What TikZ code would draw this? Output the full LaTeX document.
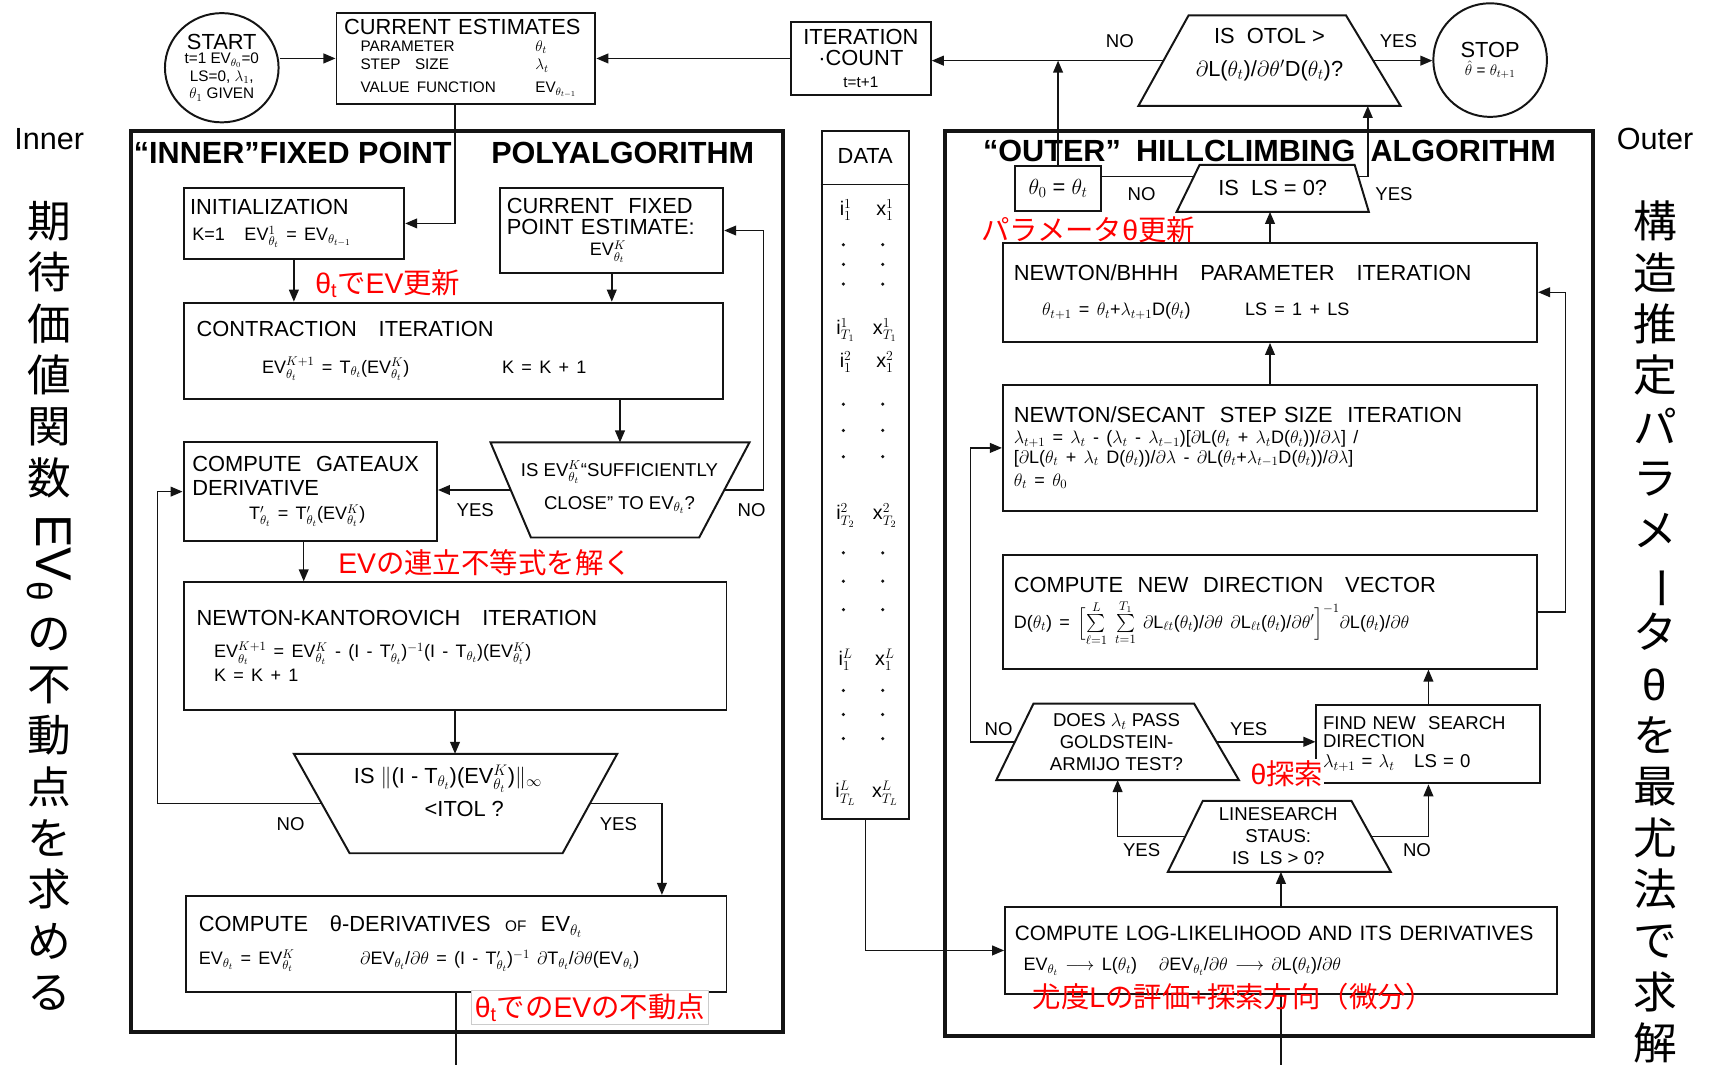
\RequirePackage{fix-cm}
\documentclass[tikz,border=0pt]{standalone}
\usepackage{amsmath,amssymb}
\usepackage{fontspec}
\setmainfont{Liberation Sans}
\newfontfamily\jpfont{Noto Sans CJK JP}
\usepackage{graphicx}
\usepackage{tikz}
\usetikzlibrary{arrows.meta,positioning,calc,shapes.geometric}
\usepackage{xcolor}
\definecolor{ink}{RGB}{20,20,20}
\definecolor{redmark}{RGB}{255,0,0}
\newcommand{\fhd}{\fontsize{20}{22}\selectfont}
\newcommand{\ffm}{\fontsize{16.5}{19}\selectfont}
\newcommand{\fsm}{\fontsize{14}{16}\selectfont}
\newcommand{\fcs}{\fontsize{14}{17}\selectfont}
\newcommand{\fyn}{\fontsize{17}{20}\selectfont}
\newcommand{\fttl}{\fontsize{28}{30}\selectfont\bfseries}
\newcommand{\fmemo}{\fontsize{26}{30}\selectfont}
\newcommand{\fvert}{\jpfont\fontsize{40}{47}\selectfont}
\newcommand{\jtx}[1]{{\jpfont #1}}
% trapezoid: name, top y, bottom y, top-left x, top-right x, bottom-left x, bottom-right x
\newcommand{\trapz}[7]{%
  \coordinate (#1-tl) at (#4,#2);
  \coordinate (#1-tr) at (#5,#2);
  \coordinate (#1-bl) at (#6,#3);
  \coordinate (#1-br) at (#7,#3);
  \coordinate (#1-l) at ($(#1-tl)!0.5!(#1-bl)$);
  \coordinate (#1-r) at ($(#1-tr)!0.5!(#1-br)$);
  \coordinate (#1-t) at ($(#1-tl)!0.5!(#1-tr)$);
  \coordinate (#1-b) at ($(#1-bl)!0.5!(#1-br)$);
  \draw[trapline] (#1-tl) -- (#1-tr) -- (#1-br) -- (#1-bl) -- cycle;
}
\tikzset{
  blk/.style={draw=ink,line width=1.8pt,inner sep=9pt,align=left,font=\fhd},
  trapline/.style={draw=ink,line width=1.8pt,line join=miter},
  ask/.style={align=center,font=\fyn,inner sep=0pt},
  frame/.style={draw=ink,line width=3.6pt},
  arr/.style={-{Triangle[length=11pt,width=9pt]},line width=1.3pt,ink},
  lnk/.style={line width=1.3pt,ink},
  yn/.style={font=\fyn,inner sep=1pt},
  memo/.style={text=redmark,font=\fmemo,inner sep=1pt},
  ttl/.style={font=\fttl,inner sep=0pt},
  vert/.style={font=\fvert,align=center,inner sep=0pt,anchor=north},
  side/.style={font=\fontsize{28}{30}\selectfont,inner sep=0pt},
  dat/.style={font=\fontsize{18}{20}\selectfont,inner sep=0pt},
}

\begin{document}
\begin{tikzpicture}[x=1pt,y=-1pt]
\fill[white] (0,0) rectangle (1568,975);
\useasboundingbox (0,0) rectangle (1568,975);

% top row
\node[ellipse,draw=ink,line width=1.8pt,minimum width=104,minimum height=100,inner sep=0pt,align=center,font=\fsm] (start) at (203,62)
  {{\fhd START}\\[-3pt]t=1 EV$_{\theta_0}$=0\\LS=0, $\lambda_1$,\\$\theta_1$ GIVEN};
\node[blk,minimum width=237,minimum height=83,text width=223,inner xsep=7pt,inner ysep=3pt] (ce) at (426.5,53.5)
  {CURRENT ESTIMATES\\[-2pt]{\fcs\hspace*{15pt}\makebox[160pt][l]{PARAMETER}$\theta_t$\\
   \hspace*{15pt}\makebox[160pt][l]{STEP\ \ SIZE}$\lambda_t$\\[-1pt]
   \hspace*{15pt}\makebox[160pt][l]{VALUE FUNCTION}EV$_{\theta_{t-1}}$}};
\node[blk,minimum width=128,minimum height=67,align=center,inner sep=3pt] (itc) at (788,53.5)
  {ITERATION\\[-3pt]·COUNT\\[-2pt]{\fsm t=t+1}};
\trapz{otol}{14}{97}{1088}{1232}{1042}{1282}
\node[ask,font=\fhd] (otolT) at (1162,50) {IS\ \ OTOL >\\[8pt]$\partial$L($\theta_t$)/$\partial\theta'$D($\theta_t$)?};
\node[circle,draw=ink,line width=1.8pt,minimum size=104,inner sep=0pt,align=center] (stop) at (1364,55)
  {{\fhd STOP}\\[2pt]{\fsm $\hat\theta$ = $\theta_{t+1}$}};
\draw[arr] (start.east |- ce.west) -- (ce.west);
\draw[arr] (itc.west) -- (ce.east);
\draw[arr] (otol-l) -- (otol-l -| itc.east);
\node[yn] (noA) at (1025,38) {NO};
\draw[arr] (otol-r) -- (otol-r -| stop.west);
\node[yn] (yesA) at (1280,38) {YES};

% side notes
\node[side] (innerLbl) at (45,127) {Inner};
\node[side] (outerLbl) at (1515,127) {Outer};
\node[vert] (vleft) at (45,184) {期\\待\\価\\値\\関\\数\\[14pt]{\fontsize{46}{46}\selectfont\rotatebox[origin=c]{-90}{\rmfamily EV\textsubscript{θ}}}\\[14pt]の\\不\\動\\点\\を\\求\\め\\る};
\node[vert] (vright) at (1515,184) {構\\造\\推\\定\\パ\\ラ\\メ\\\rotatebox[origin=c]{-90}{ー}\\タ\\{\rmfamily θ}\\を\\最\\尤\\法\\で\\求\\解};

% inner fixed point loop
\node[frame,minimum width=597,minimum height=825] (inner) at (418.5,532.5) {};
\node[ttl] (innerA) at (268,140) {“INNER”FIXED POINT};
\node[ttl] (innerB) at (570,140) {POLYALGORITHM};
\node[blk,minimum width=202,minimum height=65,text width=190,inner xsep=6pt] (init) at (269,204.5)
  {INITIALIZATION\\[2pt]{\ffm\hspace*{2pt}K=1\hspace{18pt}EV$^1_{\theta_t}$ = EV$_{\theta_{t-1}}$}};
\node[blk,minimum width=204,minimum height=78,text width=192,inner xsep=6pt,inner ysep=3pt] (cfpe) at (560,211)
  {CURRENT\ \ FIXED\\[-3pt]POINT ESTIMATE:\\[-2pt]{\ffm\hspace*{76pt}EV$^K_{\theta_t}$}};
\node[blk,minimum width=494,minimum height=88,text width=470,inner xsep=12pt] (contr) at (415,321)
  {CONTRACTION\ \ \ ITERATION\\[12pt]{\ffm\hspace*{60pt}EV$^{K+1}_{\theta_t}$ = T$_{\theta_t}$(EV$^K_{\theta_t}$)\hspace{85pt}K = K + 1}};
\trapz{suff}{405}{492}{449}{686}{486}{640}
\node[ask] (suffT) at (567,446) {IS EV$^K_{\theta_t}$“SUFFICIENTLY\\[10pt]CLOSE” TO EV$_{\theta_t}$?};
\node[blk,minimum width=232,minimum height=90,text width=216,inner xsep=8pt] (gat) at (284,450)
  {COMPUTE\ \ GATEAUX\\DERIVATIVE\\[0pt]{\ffm\hspace*{52pt}T$'_{\theta_t}$ = T$'_{\theta_t}$(EV$^K_{\theta_t}$)}};
\node[blk,minimum width=497,minimum height=117,text width=473,inner xsep=12pt] (nk) at (416.5,591.5)
  {NEWTON-KANTOROVICH\ \ \ ITERATION\\[10pt]{\ffm\hspace*{16pt}EV$^{K+1}_{\theta_t}$ = EV$^K_{\theta_t}$ - (I - T$'_{\theta_t}$)$^{-1}$(I - T$_{\theta_t}$)(EV$^K_{\theta_t}$)\\[0pt]\hspace*{16pt}K = K + 1}};
\trapz{itol}{690}{781}{269}{565}{320}{515}
\node[ask,font=\fhd] (itolT) at (410,724) {IS $\|$(I - T$_{\theta_t}$)(EV$^K_{\theta_t}$)$\|_\infty$\\[8pt]\hspace*{30pt}<ITOL ?};
\node[blk,minimum width=495,minimum height=88,text width=471,inner xsep=12pt] (deriv) at (417.5,864)
  {COMPUTE\ \ \ θ-DERIVATIVES\ \ {\fsm OF}\ \ EV$_{\theta_t}$\\[8pt]{\ffm EV$_{\theta_t}$ = EV$^K_{\theta_t}$\hspace{60pt}$\partial$EV$_{\theta_t}$/$\partial\theta$ = (I - T$'_{\theta_t}$)$^{-1}$ $\partial$T$_{\theta_t}$/$\partial\theta$(EV$_{\theta_t}$)}};
\coordinate (innerEnd) at (417.5,975);

\draw[arr] ([xshift=-10pt]ce.south) |- (init.east);
\draw[arr] (init.south) -- (init.south |- contr.north);
\draw[arr] (cfpe.south) -- (cfpe.south |- contr.north);
\draw[arr] (contr.south -| suff-t) -- (suff-t);
\draw[arr] (suff-l) -- (suff-l -| gat.east);
\node[yn] (yesB) at (435,467) {YES};
\draw[arr] (suff-r) -| ([xshift=36pt]cfpe.east) -- (cfpe.east);
\node[yn] (noB) at (688,467) {NO};
\draw[arr] ([xshift=-6pt]gat.south) -- ([xshift=-6pt]gat.south |- nk.north);
\draw[arr] (nk.south) -- (nk.south |- itol-t);
\draw[arr] (itol-l) -| ([xshift=-23pt]gat.west) -- (gat.west);
\node[yn] (noC) at (266,754) {NO};
\draw[arr] (itol-r) -| ([xshift=-60pt]deriv.north east);
\node[yn] (yesC) at (566,754) {YES};
\draw[lnk] (deriv.south) -- (innerEnd);

\node[memo] (memoA) at (355,260) {θ\textsubscript{t}\jtx{で}EV\jtx{更新}};
\node[memo] (memoB) at (444,515) {EV\jtx{の連立不等式を解く}};
\node[memo,fill=white,draw=black!20,line width=0.6pt,inner sep=3pt] (memoC) at (540,922) {θ\textsubscript{t}\jtx{での}EV\jtx{の不動点}};

% data column
\node[draw=ink,line width=1.8pt,minimum width=80,minimum height=630,inner sep=0pt] (data) at (792,435) {};
\node[font=\fhd] (dataT) at (792,143) {DATA};
\draw[lnk] ([yshift=-50pt]data.north west) -- ([yshift=-50pt]data.north east);
\foreach \n/\y/\supv/\subv in {1/192/1/1,2/302/1/T_1,3/331/2/1,4/472/2/T_2,5/604/L/1,6/726/L/T_L}{
  \node[dat] (di\n) at (774,\y) {i$^{\supv}_{\subv}$};
  \node[dat] (dx\n) at (810,\y) {x$^{\supv}_{\subv}$};
}
\foreach \y in {224,242,260,370,394,418,506,532,558,632,654,676}{
  \fill[ink] (772,\y) circle (1.6pt);
  \fill[ink] (808,\y) circle (1.6pt);
}

% outer hillclimbing loop
\node[frame,minimum width=593,minimum height=828] (outer) at (1161.5,534) {};
\node[ttl] (outerT) at (1162,138) {“OUTER”\hspace{14pt}HILLCLIMBING\hspace{14pt}ALGORITHM};
\node[blk,minimum width=79,minimum height=41,inner sep=0pt,align=center] (th0) at (968.5,172.5) {$\theta_0$ = $\theta_t$};
\trapz{lsz}{151}{194}{1098}{1240}{1077}{1253}
\node[ask,font=\fhd] (lszT) at (1165,172) {IS\ \ LS = 0?};
\node[yn] (noD) at (1045,178) {NO};
\node[yn] (yesD) at (1276,178) {YES};
\node[blk,minimum width=489,minimum height=91,text width=469,inner xsep=10pt] (bhhh) at (1162.5,267.5)
  {NEWTON/BHHH\ \ \ PARAMETER\ \ \ ITERATION\\[10pt]{\ffm\hspace*{26pt}$\theta_{t+1}$ = $\theta_t$+$\lambda_{t+1}$D($\theta_t$)\hspace{50pt}LS = 1 + LS}};
\node[blk,minimum width=489,minimum height=116,text width=469,inner xsep=10pt] (sec) at (1162.5,410)
  {NEWTON/SECANT\ \ STEP\ SIZE\ \ ITERATION\\[0pt]{\ffm $\lambda_{t+1}$ = $\lambda_t$ - ($\lambda_t$ - $\lambda_{t-1}$)[$\partial$L($\theta_t$ + $\lambda_t$D($\theta_t$))/$\partial\lambda$] /\\[-1pt][$\partial$L($\theta_t$ + $\lambda_t$ D($\theta_t$))/$\partial\lambda$ - $\partial$L($\theta_t$+$\lambda_{t-1}$D($\theta_t$))/$\partial\lambda$]\\[-1pt]$\theta_t$ = $\theta_0$}};
\node[blk,minimum width=489,minimum height=104,text width=469,inner xsep=10pt] (dir) at (1162.5,560)
  {COMPUTE\ \ NEW\ \ DIRECTION\ \ \ VECTOR\\[6pt]{\ffm D($\theta_t$) = $\Bigl[\sum\limits_{\ell=1}^{L}\;\sum\limits_{t=1}^{T_1}$ $\partial$L$_{\ell t}$($\theta_t$)/$\partial\theta$ $\partial$L$_{\ell t}$($\theta_t$)/$\partial\theta'\Bigr]^{-1}$$\partial$L($\theta_t$)/$\partial\theta$}};
\node[blk,minimum width=205,minimum height=72,text width=193,inner xsep=6pt,inner ysep=2pt,font=\fyn] (find) at (1307.5,681)
  {FIND NEW\ \ SEARCH\\[-3pt]DIRECTION\\[-2pt]$\lambda_{t+1}$ = $\lambda_t$\hspace{18pt}LS = 0};
\trapz{gold}{644}{714}{946}{1093}{912}{1134}
\node[ask] (goldT) at (1022,679) {DOES $\lambda_t$ PASS\\GOLDSTEIN-\\ARMIJO TEST?};
\trapz{lsch}{733}{798}{1101}{1237}{1069}{1273}
\node[ask] (lschT) at (1170,765) {LINESEARCH\\STAUS:\\IS\ \ LS > 0?};
\node[blk,minimum width=505,minimum height=80,text width=487,inner xsep=9pt] (ll) at (1172.5,870)
  {{\fontsize{19}{22}\selectfont COMPUTE\ LOG-LIKELIHOOD\ AND\ ITS\ DERIVATIVES}\\[6pt]{\ffm\hspace*{8pt}EV$_{\theta_t}$ $\longrightarrow$ L($\theta_t$)\ \ \ $\partial$EV$_{\theta_t}$/$\partial\theta$ $\longrightarrow$ $\partial$L($\theta_t$)/$\partial\theta$}};
\coordinate (outerEnd) at (1172.5,975);
\coordinate (lszNo) at ($(lsz-tl)!0.25!(lsz-bl)$);
\coordinate (lszYes) at ($(lsz-tr)!0.25!(lsz-br)$);

\draw[lnk] (lszNo) -- (lszNo -| th0.east);
\draw[arr] (th0.north) -- (th0.north |- otol-l);
\draw[arr] (lszYes) -| ([xshift=90pt]otol-b);
\draw[arr] (bhhh.north) -- (bhhh.north |- lsz-b);
\draw[arr] (sec.north) -- (bhhh.south);
\draw[arr] (dir.east) -| ([xshift=25pt]bhhh.east) -- (bhhh.east);
\draw[arr] (find.north) -- (find.north |- dir.south);
\draw[arr] (gold-r) -- (gold-r -| find.west);
\node[yn] (yesE) at (1143,667) {YES};
\draw[arr] (gold-l) -| ([xshift=-29pt]sec.west) -- (sec.west);
\node[yn] (noE) at (914,667) {NO};
\draw[arr] (lsch-l) -| (gold-b);
\node[yn] (yesF) at (1045,778) {YES};
\draw[arr] (lsch-r) -| (find.south);
\node[yn] (noF) at (1297,778) {NO};
\draw[arr] (ll.north) -- (ll.north |- lsch-b);
\draw[lnk] (ll.south) -- (outerEnd);
\draw[arr] (data.south) |- (ll.west);

\node[memo] (memoD) at (996,210) {\jtx{パラメータ}θ\jtx{更新}};
\node[memo,fill=white] (memoE) at (1178,708) {θ\jtx{探索}};
\node[memo] (memoF) at (1129,912) {\jtx{尤度}L\jtx{の評価}+\jtx{探索方向（微分）}};
\end{tikzpicture}
\end{document}
